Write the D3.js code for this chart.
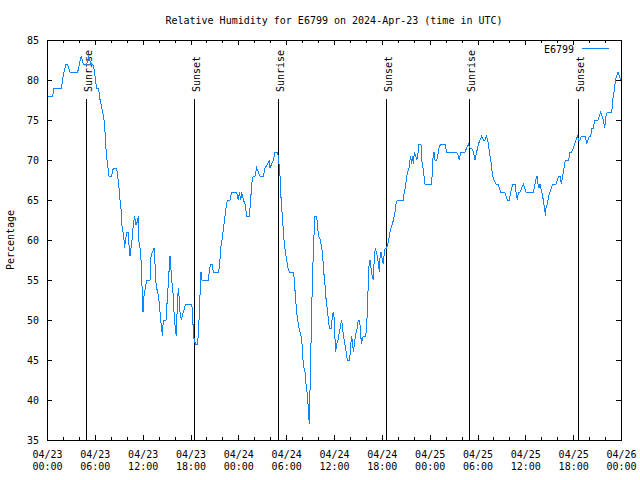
<!DOCTYPE html>
<html>
<head>
<meta charset="utf-8">
<script src="https://cdn.jsdelivr.net/npm/d3@7"></script>
<style>
  html, body { margin: 0; padding: 0; background: #fff; }
  svg { display: block; }
  text { font-family: "DejaVu Sans Mono", monospace; font-size: 10px; fill: #000; }
</style>
</head>
<body>
<svg id="chart" width="640" height="480"></svg>
<script>
// ---- data ----
const titleText = "Relative Humidity for E6799 on 2024-Apr-23 (time in UTC)";
const seriesName = "E6799";
const yLabel = "Percentage";
const startTime = Date.UTC(2024, 3, 23, 0, 0);
const endTime = Date.UTC(2024, 3, 26, 0, 0);
// hours since 2024-04-23 00:00 UTC
const hours = [0,0.71,0.88,1.84,1.92,2.13,2.38,2.55,2.89,3.85,4.06,4.31,4.56,4.98,5.23,5.48,5.73,5.98,6.06,6.23,6.48,6.56,6.77,6.98,7.15,7.32,7.42,7.53,7.65,7.78,8.11,8.32,8.74,8.99,9.16,9.28,9.37,9.53,9.66,9.70,9.87,9.99,10.16,10.24,10.41,10.54,10.66,10.83,11.0,11.12,11.25,11.46,11.5,11.67,11.83,11.96,12.04,12.17,12.33,12.5,12.92,13.05,13.42,13.51,13.63,13.76,13.97,14.09,14.26,14.38,14.47,14.59,14.93,15.05,15.18,15.3,15.43,15.64,15.85,15.97,16.1,16.22,16.35,16.47,16.56,16.68,16.85,17.1,17.4,18.15,18.27,18.36,18.61,18.86,18.98,19.11,19.23,19.32,19.44,20.24,20.36,20.49,20.74,20.86,21.53,21.66,21.79,21.95,22.08,22.2,22.33,22.45,22.62,22.96,23.17,23.79,24.0,24.13,24.3,24.42,24.63,24.84,25.05,25.38,25.55,25.67,25.88,26.09,26.3,26.51,26.72,27.14,27.35,27.68,27.89,27.97,28.18,28.39,28.6,28.93,29.06,29.14,29.23,29.31,29.44,29.56,29.65,29.77,29.9,30.06,30.23,30.4,30.9,31.03,31.15,31.32,31.44,31.61,31.86,31.99,32.11,32.24,32.36,32.49,32.61,32.74,32.82,32.91,32.95,33.07,33.16,33.28,33.41,33.53,33.62,33.83,33.95,34.08,34.29,34.46,34.58,34.71,34.83,34.96,35.08,35.21,35.33,35.46,35.67,35.79,35.92,36.04,36.13,36.21,36.34,36.5,36.67,36.8,36.92,37.05,37.17,37.3,37.42,37.55,37.67,37.92,38.05,38.18,38.3,38.43,38.55,38.68,38.8,38.93,39.05,39.18,39.31,39.43,39.56,39.68,39.93,40.06,40.18,40.31,40.43,40.56,40.68,40.81,40.94,41.06,41.19,41.31,41.44,41.56,41.69,41.81,41.94,42.06,42.19,42.31,42.44,42.6,42.73,42.86,43.03,43.15,43.32,43.45,43.65,43.78,43.95,44.7,44.82,44.95,45.12,45.24,45.41,45.54,45.62,45.74,45.83,45.95,46.08,46.25,46.37,46.5,46.66,46.91,47.0,47.17,47.29,47.42,48.26,48.38,48.55,48.67,48.88,49.0,49.17,49.38,49.93,50.13,51.39,51.6,51.72,51.89,52.43,52.64,52.85,53.06,53.27,53.48,53.69,53.9,54.11,54.32,54.53,54.74,54.94,55.15,55.36,55.49,55.66,55.78,55.91,56.07,56.32,56.58,56.74,56.91,57.41,57.58,57.75,58.0,58.17,58.42,58.71,58.83,59.0,59.13,59.34,59.54,59.75,59.92,60.09,61.01,61.13,61.3,61.47,61.59,61.72,61.84,62.05,62.18,62.3,62.43,62.51,62.59,62.76,62.93,63.1,63.26,63.43,63.85,64.02,64.18,64.35,64.52,64.69,64.85,65.02,65.44,65.61,65.82,66.02,66.19,66.36,66.53,66.7,66.86,67.03,67.53,67.7,67.86,68.03,68.2,68.37,68.54,68.7,69.12,69.29,69.46,69.62,69.79,69.96,70.12,70.29,70.84,70.96,71.13,71.3,71.47,71.63,71.8,71.93];
const humidity = [78,78,79,79,80,81,82,82,81,81,82,83,82,82,83,82,82,81,80,79,79,78,77,76,75,73,71,70,69,68,68,69,69,67,65,64,62,61,60,59,60,61,61,60,58,59,60,62,63,62,62,63,60,59,57,53,51,53,54,55,55,58,59,58,55,54,53,52,50,49,48,50,50,52,54,56,58,55,53,50,49,48,52,54,53,51,50,51,52,52,51,48,47,47,48,51,54,56,55,55,56,57,57,56,56,57,59,60,61,62,63,64,65,65,66,66,65,66,65,66,65,64.5,63,63,65,67,68,68,69,68.5,68,68,69,69.5,70,69,69.5,70,71,71,70,69,68,66,64,62.5,61,59.5,58.5,57.5,56.5,56,56,55,53,51,50,49,48,47,45,44,43.5,42,41,39.5,38,37,39.5,44.5,49.5,54.5,58.5,61.5,63,63,61.5,60.5,60,59,58,56,55,53,52,51,49.5,49,49,50.5,51,50,47.5,46,47,47.5,48.5,49,50,49.5,48,47.5,46.5,46,45,45,46,48,47.5,46,47,48,48.5,49,50,50,49,47,47.5,48,48,48.5,51,55,57.5,57.5,56,55.5,55,58,59,58.5,58,57,56,58.5,58.5,57.5,57,58.5,59,59,59.5,60,61,61.5,62,62.5,63.5,64.5,65,65,66,66.5,68,68.5,69,70,70.5,69.5,70.5,69.5,71,70.5,70,70.5,72,72,70,69,68,67,67,70,71,70,70,70.5,71.5,72,72,71,71,70.5,70,71,71,71.5,72,71.5,71.5,71,70,71,72,72.5,73,72.5,72.5,73,72,71,70,69,68,67.5,67,67,66.5,66,66,65.5,65,65,66,67,67,66,65,66,66,66.5,67,66.5,66,66,66.5,67.5,68,67,66.5,67,66,65.5,64.5,64,63,64,64.5,65.5,66,66.5,67,67,67.5,68,68,67,68,69,70,70,71,71,71.5,72,72.5,73,72.5,72.5,73,73,72,72.5,73,73,74,74,75,75,75.5,76,75.5,75,74,75.5,76,76,77.5,78.5,80,80.5,81,80.5,80];
const yTicks = [35,40,45,50,55,60,65,70,75,80,85];
const sunEventLabels = ["Sunrise","Sunset","Sunrise","Sunset","Sunrise","Sunset"];
const sunEventHours = [4.93,18.48,29.01,42.56,52.97,66.65];

// ---- layout ----
const svg = d3.select("#chart");
const L = 47, R = 621, T = 40, B = 440;
const lineColor = "#0a84ff";

const x = d3.scaleUtc().domain([new Date(startTime), new Date(endTime)]).range([L, R]);
const y = d3.scaleLinear().domain([35, 85]).range([B, T]);

const toDate = h => new Date(startTime + h * 3600e3);
const data = hours.map((h, i) => ({ t: toDate(h), v: humidity[i] }));

const majorTicks = d3.utcHour.every(6).range(new Date(startTime), new Date(endTime + 1));
const minorTicks = d3.utcHour.every(2).range(new Date(startTime), new Date(endTime + 1))
  .filter(d => d.getUTCHours() % 6 !== 0);

// title
svg.append("text").attr("x", 334).attr("y", 24).attr("text-anchor", "middle").text(titleText);

// y axis label
svg.append("text").attr("transform", "translate(13.5,240) rotate(-90)")
  .attr("text-anchor", "middle").text(yLabel);

// axes
function styleAxis(g) {
  g.select(".domain").remove();
  g.selectAll("line").attr("stroke", "#000").attr("shape-rendering", "crispEdges");
}
// bottom major with labels
const gxb = svg.append("g").attr("transform", `translate(0,${B})`)
  .call(d3.axisBottom(x).tickValues(majorTicks).tickSizeInner(-5).tickSizeOuter(0).tickFormat(""));
styleAxis(gxb);
gxb.selectAll(".tick").each(function(d) {
  const t = d3.select(this).append("text").attr("text-anchor", "middle")
    .style("font-family", "DejaVu Sans Mono, monospace").style("font-size", "10px").attr("fill", "#000");
  t.append("tspan").attr("x", 0).attr("y", 18).text(d3.utcFormat("%m/%d")(d));
  t.append("tspan").attr("x", 0).attr("y", 30).text(d3.utcFormat("%H:%M")(d));
});
const gxbm = svg.append("g").attr("transform", `translate(0,${B})`)
  .call(d3.axisBottom(x).tickValues(minorTicks).tickSizeInner(-3).tickSizeOuter(0).tickFormat(""));
styleAxis(gxbm);
// top mirrored ticks
const gxt = svg.append("g").attr("transform", `translate(0,${T})`)
  .call(d3.axisTop(x).tickValues(majorTicks).tickSizeInner(-5).tickSizeOuter(0).tickFormat(""));
styleAxis(gxt);
const gxtm = svg.append("g").attr("transform", `translate(0,${T})`)
  .call(d3.axisTop(x).tickValues(minorTicks).tickSizeInner(-3).tickSizeOuter(0).tickFormat(""));
styleAxis(gxtm);
// left axis
const gyl = svg.append("g").attr("transform", `translate(${L},0)`)
  .call(d3.axisLeft(y).tickValues(yTicks).tickSizeInner(-5).tickSizeOuter(0).tickPadding(8).tickFormat(d3.format("d")));
styleAxis(gyl);
gyl.selectAll("text").style("font-family", "DejaVu Sans Mono, monospace").style("font-size", "10px").attr("fill", "#000");
// right axis
const gyr = svg.append("g").attr("transform", `translate(${R},0)`)
  .call(d3.axisRight(y).tickValues(yTicks).tickSizeInner(-5).tickSizeOuter(0).tickFormat(""));
styleAxis(gyr);

// sunrise / sunset markers
sunEventHours.forEach((h, i) => {
  const px = Math.round(x(toDate(h))) + 0.5;
  svg.append("line").attr("x1", px).attr("x2", px).attr("y1", 99).attr("y2", B)
    .attr("stroke", "#000").attr("stroke-width", 1).attr("shape-rendering", "crispEdges");
  svg.append("text").attr("transform", `translate(${px + 5},92) rotate(-90)`)
    .attr("text-anchor", "start").text(sunEventLabels[i]);
});

// series
const line = d3.line().x(d => x(d.t)).y(d => y(d.v));
svg.append("path").datum(data).attr("d", line)
  .attr("fill", "none").attr("stroke", lineColor).attr("stroke-width", 1)
  .attr("shape-rendering", "crispEdges");

// border
svg.append("rect").attr("x", L + 0.5).attr("y", T + 0.5).attr("width", R - L).attr("height", B - T)
  .attr("fill", "none").attr("stroke", "#000").attr("stroke-width", 1).attr("shape-rendering", "crispEdges");

// legend
svg.append("text").attr("x", 574).attr("y", 53).attr("text-anchor", "end").text(seriesName);
svg.append("line").attr("x1", 582).attr("x2", 609).attr("y1", 48.5).attr("y2", 48.5)
  .attr("stroke", lineColor).attr("stroke-width", 1).attr("shape-rendering", "crispEdges");
</script>
</body>
</html>
